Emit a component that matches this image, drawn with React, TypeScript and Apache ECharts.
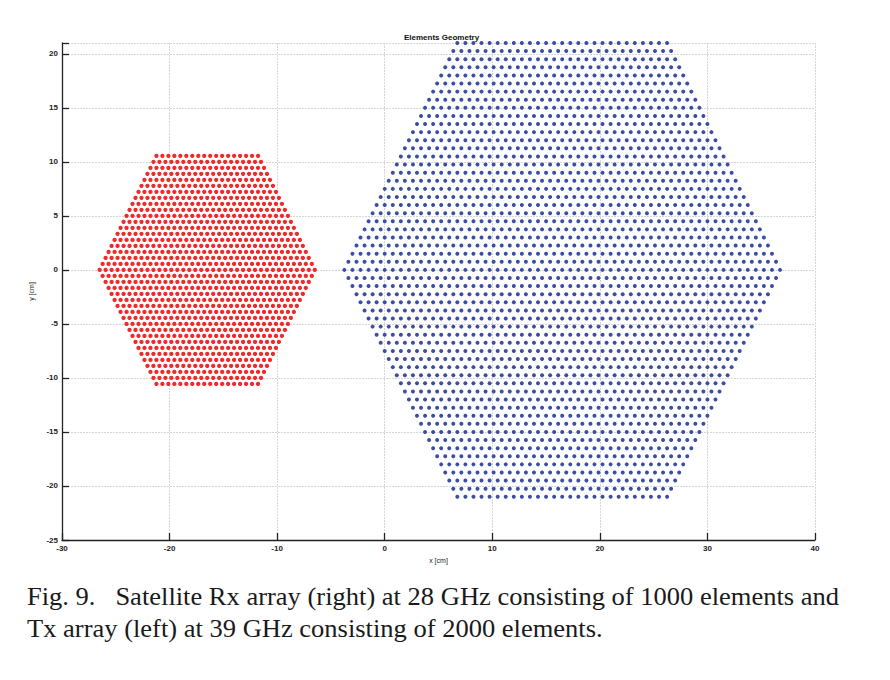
import React, { useEffect, useRef } from "react";
import * as echarts from "echarts";

// Array geometry (hexagonal lattices)
const arrayNames = ["Tx array (left)", "Rx array (right)"];
const arrayColors = ["#ee2b2b", "#3b4ea3"];
const arrayCenterX = [-16.5, 16.5]; // cm
const arrayPitch = [0.5556, 0.75]; // cm, element spacing
const arrayEdgeRowCount = [18, 27]; // dots in top / bottom row
const arrayRowsFromCenter = [19, 28]; // rows between centre row and edge row
const arraySymbolSize = [4.3, 4];

const xTicks = [-30, -20, -10, 0, 10, 20, 30, 40];
const yTicks = [-25, -20, -15, -10, -5, 0, 5, 10, 15, 20];

const captionLines = [
  "Fig. 9.   Satellite Rx array (right) at 28 GHz consisting of 1000 elements and",
  "Tx array (left) at 39 GHz consisting of 2000 elements.",
];

function buildArray(i: number): number[][] {
  const pts: number[][] = [];
  const R = arrayRowsFromCenter[i];
  const p = arrayPitch[i];
  for (let r = -R; r <= R; r++) {
    const n = arrayEdgeRowCount[i] + (R - Math.abs(r));
    const x0 = arrayCenterX[i] - ((n - 1) / 2) * p;
    for (let k = 0; k < n; k++) pts.push([x0 + k * p, r * p]);
  }
  return pts;
}

export default function App() {
  const ref = useRef<HTMLDivElement>(null);
  useEffect(() => {
    if (!ref.current) return;
    const chart = echarts.init(ref.current, null, { renderer: "svg" });
    const axisLabel = {
      fontFamily: "Liberation Sans, Arial, sans-serif",
      fontSize: 8,
      fontWeight: "bold" as const,
      color: "#222",
    };
    const split = { show: true, lineStyle: { color: "#d6d6d6", width: 1, type: [2, 1] as any } };
    chart.setOption({
      animation: false,
      backgroundColor: "#ffffff",
      title: {
        text: "Elements Geometry",
        left: 399,
        top: 28,
        textStyle: {
          fontFamily: "Liberation Sans, Arial, sans-serif",
          fontSize: 8,
          fontWeight: "bold",
          color: "#111",
        },
      },
      grid: { left: 62, right: 75, top: 43, bottom: 140, containLabel: false },
      xAxis: {
        type: "value",
        min: xTicks[0],
        max: xTicks[xTicks.length - 1],
        interval: 10,
        name: "x [cm]",
        nameLocation: "middle",
        nameGap: 17,
        nameTextStyle: { fontFamily: "Liberation Sans, Arial, sans-serif", fontSize: 7, color: "#222" },
        axisLine: { show: true, onZero: false, lineStyle: { color: "#222", width: 1.3 } },
        axisTick: { show: true, inside: true, length: 7, lineStyle: { color: "#222", width: 1.3 } },
        axisLabel: { ...axisLabel, margin: 4 },
        splitLine: split,
      },
      yAxis: {
        type: "value",
        min: yTicks[0],
        max: 21,
        interval: 5,
        name: "y [cm]",
        nameLocation: "middle",
        nameGap: 27,
        nameRotate: 90,
        nameTextStyle: { fontFamily: "Liberation Sans, Arial, sans-serif", fontSize: 7, color: "#222" },
        axisLine: { show: true, onZero: false, lineStyle: { color: "#222", width: 1.3 } },
        axisTick: { show: true, inside: true, length: 7, lineStyle: { color: "#222", width: 1.3 } },
        axisLabel: {
          ...axisLabel,
          margin: 4,
          formatter: (v: number) => (yTicks.includes(v) ? String(v) : ""),
        },
        splitLine: split,
      },
      series: arrayNames.map((name, i) => ({
        name,
        type: "scatter",
        data: buildArray(i),
        symbol: "circle",
        symbolSize: arraySymbolSize[i],
        clip: false,
        itemStyle: { color: arrayColors[i], opacity: 1 },
        silent: true,
      })),
      graphic: captionLines.map((t, i) => ({
        type: "text",
        left: 27,
        top: 584 + i * 32,
        scaleX: 1.02,
        style: {
          text: t,
          fontFamily: "Liberation Serif, Times New Roman, serif",
          fontSize: 26,
          fill: "#1a1a1a",
        },
      })),
    });
    return () => chart.dispose();
  }, []);
  return (
    <div
      ref={ref}
      style={{ position: "fixed", left: 0, top: 0, width: 890, height: 680, background: "#fff" }}
    />
  );
}
